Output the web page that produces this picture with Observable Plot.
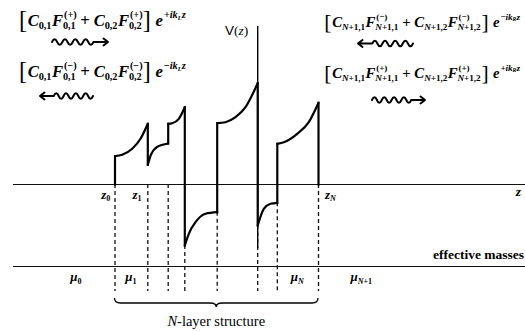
<!DOCTYPE html>
<html><head><meta charset="utf-8">
<script src="https://cdn.jsdelivr.net/npm/d3@7"></script>
<script src="https://cdn.jsdelivr.net/npm/@observablehq/plot@0.6"></script>
<style>
body{margin:0;background:#fff}
#chart{position:relative;width:525px;height:331px}
#chart svg{display:block}
.lab{position:absolute;white-space:nowrap;line-height:1;font-family:'Liberation Serif',serif;color:#000;font-weight:bold}
.lab.normal{font-weight:normal}
.lab i{font-style:italic}
.lab .sans{font-family:'Liberation Sans',sans-serif}
.lab .sp{display:inline-block;width:.24em}
.lab .big{font-size:1.45em;font-weight:normal;line-height:0;position:relative;top:.08em;padding:0 .03em}
.lab .ss{display:inline-grid;vertical-align:baseline;margin-right:.03em}
.lab .ss>span{grid-area:1/1;font-size:.62em;position:relative;line-height:1;letter-spacing:-.01em}
.lab .ss>.sup{top:-.8em;left:.1em}
.lab .ss>.sub{top:.32em}
</style>
</head><body><div id="chart"></div>
<script>
// ---- data (z in arbitrary units, z_0 = 0; V in arbitrary units, V = 0 on the z axis)
const interfaceZ = [0, 32.8, 53.2, 69.8, 102.2, 142.7, 162.3, 203.5];
const layer1Z = [0, 7.2, 17.2, 25.5, 32.8];
const layer1V = [28.3, 29.7, 35.7, 45.7, 60.7];
const layer2Z = [32.8, 36, 42, 53.2];
const layer2V = [19.7, 30, 37.5, 41];
const layer3Z = [53.2, 57.2, 63.8, 69.8];
const layer3V = [60.7, 61.3, 65.7, 77.3];
const layer4Z = [69.8, 73.8, 80.5, 90.5, 102.2];
const layer4V = [-61, -49.3, -37.7, -29.3, -27.7];
const layer5Z = [102.2, 110.5, 120.5, 130.5, 142.7];
const layer5V = [61.3, 62.3, 67.3, 77.3, 101.3];
const layer6Z = [142.7, 148.8, 155.5, 162.3];
const layer6V = [-41, -24.3, -19.3, -18.3];
const layer7Z = [162.3, 168.8, 182.2, 193.8, 203.5];
const layer7V = [40.7, 42.3, 50.7, 62.3, 81.7];

const interfaceLabels = ["$z_0$", "$z_1$", "", "", "", "", "", "$z_N$"];
const massLabels = ["$μ_0$", "$μ_1$", "$μ_N$", "$μ_{N+1}$"];
const massLabelZ = [-38.5, 16.5, 183, 247];
const formulaTexts = [
  "$[C_{0,1}F^{(+)}_{0,1} + C_{0,2}F^{(+)}_{0,2}] e^{+ik_Lz}$",
  "$[C_{0,1}F^{(−)}_{0,1} + C_{0,2}F^{(−)}_{0,2}] e^{−ik_Lz}$",
  "$[C_{N+1,1}F^{(−)}_{N+1,1} + C_{N+1,2}F^{(−)}_{N+1,2}] e^{−ik_Rz}$",
  "$[C_{N+1,1}F^{(+)}_{N+1,1} + C_{N+1,2}F^{(+)}_{N+1,2}] e^{+ik_Rz}$"
];
const axisTitle = "~V~$(z)$";
const zTitle = "$z$";
const massTitle = "effective masses";
const braceTitle = "$N$-layer structure";

// ---- build tables
const layersZ = [layer1Z, layer2Z, layer3Z, layer4Z, layer5Z, layer6Z, layer7Z];
const layersV = [layer1V, layer2V, layer3V, layer4V, layer5V, layer6V, layer7V];
const profile = layersZ.flatMap((zs, k) => zs.map((z, j) => ({layer: k + 1, z, V: layersV[k][j]})));
const steps = interfaceZ.map((z, i) => ({
  z,
  from: i === 0 ? 0 : layersV[i - 1][layersV[i - 1].length - 1],
  to: i === interfaceZ.length - 1 ? 0 : layersV[i][0]
}));
const dashRows = steps.map(s => ({z: s.z, top: Math.min(0, s.from, s.to), bottom: -107}));
const vAxisZ = interfaceZ[5];
const lineRows = [{V: 0, x1: -101.5, x2: 410.5}, {V: -82, x1: -101.5, x2: 410.5}];

const plot = Plot.plot({
  width: 525, height: 331, margin: 0,
  x: {domain: [-114.5, 410.5], axis: null},
  y: {domain: [-147, 184], axis: null},
  marks: [
    Plot.ruleY(lineRows, {y: "V", x1: "x1", x2: "x2", stroke: "#111", strokeWidth: 1.2}),
    Plot.ruleX(dashRows, {x: "z", y1: "top", y2: "bottom", stroke: "#111", strokeWidth: 1.3, strokeDasharray: "4,3"}),
    Plot.ruleX([vAxisZ], {y1: -64, y2: 158, stroke: "#000", strokeWidth: 1.4}),
    Plot.line(profile, {x: "z", y: "V", z: "layer", curve: "monotone-x", stroke: "#000", strokeWidth: 2.2}),
    Plot.link(steps, {x1: "z", x2: "z", y1: "from", y2: "to", stroke: "#000", strokeWidth: 2.2, strokeLinecap: "square"})
  ]
});
const chart = document.getElementById("chart");
chart.appendChild(plot);

const sx = plot.scale("x"), sy = plot.scale("y");
const X = v => sx.apply(v), Y = v => sy.apply(v);
const svg = d3.select(plot);

// ---- tiny rich-text: $..$ math italics, ~..~ sans, ^{} sup, _{} sub  -> HTML
function parseRich(s) {
  let i = 0, math = false, sans = false;
  function seq() {
    const out = [];
    while (i < s.length && s[i] !== "}") {
      const c = s[i];
      if (c === "$") { math = !math; i++; continue; }
      if (c === "~") { sans = !sans; i++; continue; }
      if (c === "^" || c === "_") {
        i++;
        let sup = null, sub = null;
        if (c === "^") sup = grp(); else sub = grp();
        if (s[i] === "^" && !sup) { i++; sup = grp(); }
        else if (s[i] === "_" && !sub) { i++; sub = grp(); }
        out.push({sup, sub});
        continue;
      }
      out.push({c, math, sans}); i++;
    }
    return out;
  }
  function grp() {
    if (s[i] === "{") { i++; const n = seq(); i++; return n; }
    return [{c: s[i++], math, sans}];
  }
  return seq();
}
function toHTML(nodes, big) {
  return nodes.map(n => {
    if (n.sup || n.sub) {
      return `<span class="ss">${n.sup ? `<span class="sup">${toHTML(n.sup, false)}</span>` : ""}${n.sub ? `<span class="sub">${toHTML(n.sub, false)}</span>` : ""}</span>`;
    }
    const c = n.c;
    if (c === " ") return `<span class="sp"></span>`;
    if (big && (c === "[" || c === "]")) return `<span class="big">${c}</span>`;
    let h = (n.math && /[A-Za-zμ]/.test(c)) ? `<i>${c}</i>` : c;
    if (n.sans) h = `<span class="sans">${h}</span>`;
    return h;
  }).join("");
}
function richText(s, px, py, size, o = {}) {
  const anchor = o.anchor || "start";
  const d = document.createElement("div");
  d.className = "lab" + (o.weight === "normal" ? " normal" : "");
  d.style.left = px + "px";
  d.style.top = py + "px";
  d.style.fontSize = size + "px";
  const tx = anchor === "end" ? "-100%" : anchor === "middle" ? "-50%" : "0";
  d.style.transform = `translate(${tx}, -0.8375em)`;
  d.innerHTML = toHTML(parseRich(s), !!o.bigBrackets);
  chart.appendChild(d);
  if (o.fitWidth) {
    const w = d.getBoundingClientRect().width;
    if (w > 0) d.style.fontSize = (size * o.fitWidth / w) + "px";
  }
  return d;
}

// formulas: start position (z, V) and width in px
const formulaPos = [[-96.3, 157, 167], [-96.3, 106, 167], [209.2, 157, 196], [209.2, 106, 196]];
formulaTexts.forEach((s, k) => richText(s, X(formulaPos[k][0]), Y(formulaPos[k][1]), 15, {bigBrackets: true, fitWidth: formulaPos[k][2]}));

// wavy arrows
const arrows = [
  {z0: -62.5, z1: -6.5, V: 142, dir: 1},
  {z0: -74.5, z1: -21.5, V: 88, dir: -1},
  {z0: 243.5, z1: 298.5, V: 140.5, dir: -1},
  {z0: 257.5, z1: 310.5, V: 84, dir: 1}
];
function wave(xa, xb, y, n, a) {
  const p = (xb - xa) / n;
  let d = `M${xa},${y}`;
  for (let k = 0; k < n; k++) d += ` q${p / 4},${-2 * a} ${p / 2},0 q${p / 4},${2 * a} ${p / 2},0`;
  return d;
}
arrows.forEach(a => {
  const xa = X(a.z0), xb = X(a.z1), y = Y(a.V), L = xb - xa;
  let d;
  if (a.dir > 0) {
    const xw = xa + L * 0.74;
    d = wave(xa, xw, y, 4, 2.8) + ` L${xb},${y} M${xb - 4.5},${y - 3.5} L${xb},${y} L${xb - 4.5},${y + 3.5}`;
  } else {
    const xw = xa + L * 0.26;
    d = `M${xa},${y} L${xw},${y} ` + wave(xw, xb, y, 4, 2.8) + ` M${xa + 4.5},${y - 3.5} L${xa},${y} L${xa + 4.5},${y + 3.5}`;
  }
  svg.append("path").attr("d", d).attr("fill", "none").attr("stroke", "#000")
    .attr("stroke-width", 2).attr("stroke-linejoin", "round").attr("stroke-linecap", "round");
});

// axis labels
richText(axisTitle, X(133.8), Y(149), 13.5, {anchor: "end", weight: "normal"});
richText(zTitle, X(406.5), Y(-12), 13.5, {anchor: "end"});
richText(massTitle, X(409.5), Y(-75), 13.5, {anchor: "end"});
richText(interfaceLabels[0], X(-3.8), Y(-14.5), 13, {anchor: "end"});
richText(interfaceLabels[1], X(22.7), Y(-14.5), 13, {anchor: "middle"});
richText(interfaceLabels[7], X(210.5), Y(-14.5), 13, {anchor: "start"});
massLabels.forEach((s, k) => richText(s, X(massLabelZ[k]), Y(-97), 13, {anchor: "middle"}));

// brace under N-layer structure
{
  const xa = X(interfaceZ[0]), xb = X(interfaceZ[interfaceZ.length - 1]), xm = (xa + xb) / 2;
  const yt = Y(-114), yh = Y(-119), yp = Y(-123);
  const d = `M${xa},${yt} Q${xa},${yh} ${xa + 6},${yh} L${xm - 6},${yh} Q${xm},${yh} ${xm},${yp} Q${xm},${yh} ${xm + 6},${yh} L${xb - 6},${yh} Q${xb},${yh} ${xb},${yt}`;
  svg.append("path").attr("d", d).attr("fill", "none").attr("stroke", "#000").attr("stroke-width", 1.3);
  richText(braceTitle, xm, Y(-142), 14.5, {anchor: "middle", weight: "normal"});
}
</script></body></html>
